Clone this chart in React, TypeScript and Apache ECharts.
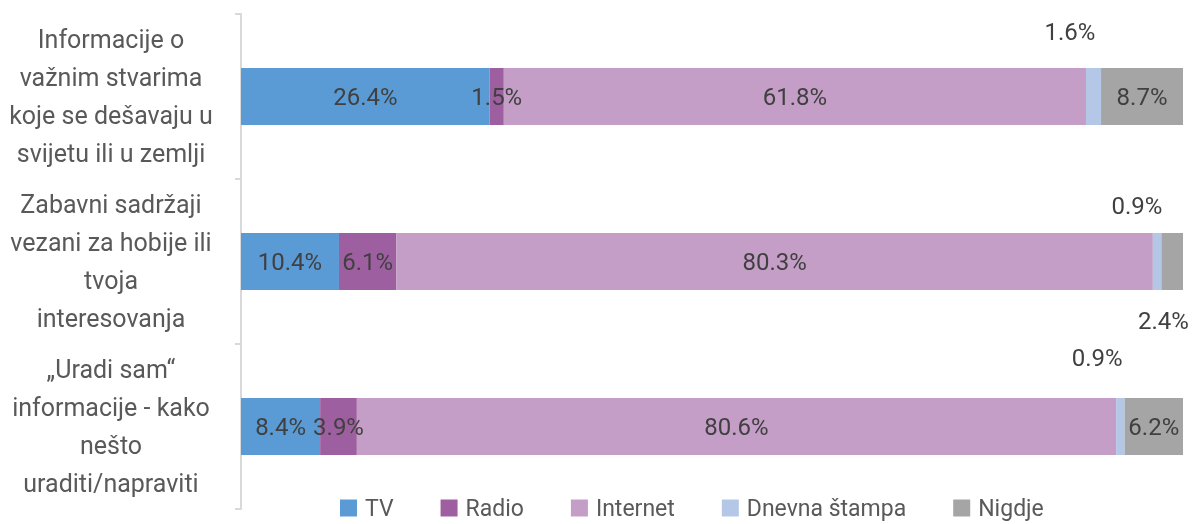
import React, { useEffect, useRef } from "react";
import * as echarts from "echarts";

const categories = [
  "Informacije o\nvažnim stvarima\nkoje se dešavaju u\nsvijetu ili u zemlji",
  "Zabavni sadržaji\nvezani za hobije ili\ntvoja\ninteresovanja",
  "„Uradi sam“\ninformacije - kako\nnešto\nuraditi/napraviti",
];
const seriesNames = ["TV", "Radio", "Internet", "Dnevna štampa", "Nigdje"];
const tv = [26.4, 10.4, 8.4];
const radio = [1.5, 6.1, 3.9];
const internet = [61.8, 80.3, 80.6];
const dnevna = [1.6, 0.9, 0.9];
const nigdje = [8.7, 2.4, 6.2];
const colors = ["#5B9BD5", "#9E5FA1", "#C49EC7", "#B4C7E7", "#A5A5A5"];

// label placements outside the bars (relative to segment rect): key "series-category"
const outsideLabels: Record<string, [number, number]> = {
  "3-0": [-16, -36],
  "3-1": [-16, -27],
  "3-2": [-19, -40],
  "4-1": [2, 88],
};

const FONT = "Roboto, 'Liberation Sans', sans-serif";

export default function App() {
  const ref = useRef<HTMLDivElement>(null);
  useEffect(() => {
    if (!ref.current) return;
    const chart = echarts.init(ref.current, null, { renderer: "svg" });
    const all = [tv, radio, internet, dnevna, nigdje];
    const series = all.map((vals, si) => ({
      name: seriesNames[si],
      type: "bar",
      stack: "total",
      barWidth: 57,
      itemStyle: { color: colors[si] },
      label: {
        show: true,
        position: "inside",
        color: "#404040",
        fontFamily: FONT,
        fontSize: 24,
        formatter: (p: any) => p.value.toFixed(1) + "%",
      },
      data: vals.map((v, ci) => {
        const o = outsideLabels[`${si}-${ci}`];
        if (!o) return v;
        return {
          value: v,
          label: { position: o, align: "center", verticalAlign: "middle" },
        };
      }),
    }));
    chart.setOption({
      animation: false,
      textStyle: { fontFamily: FONT },
      grid: { left: 241, right: 9, top: 14, bottom: 15, containLabel: false },
      legend: {
        top: 491,
        left: 335,
        itemWidth: 17,
        itemHeight: 17,
        itemGap: 47,
        icon: "rect",
        textStyle: {
          color: "#595959",
          fontSize: 23,
          lineHeight: 24,
          fontFamily: FONT,
          padding: [0, 0, 0, 3],
        },
        data: seriesNames,
      },
      xAxis: {
        type: "value",
        min: 0,
        max: 100,
        show: false,
      },
      yAxis: {
        type: "category",
        inverse: true,
        data: categories,
        axisLine: { show: true, lineStyle: { color: "#D9D9D9", width: 2 } },
        axisTick: { show: true, length: 6, lineStyle: { color: "#D9D9D9", width: 2 } },
        axisLabel: {
          color: "#595959",
          fontSize: 25,
          lineHeight: 38,
          align: "center",
          margin: 130,
          fontFamily: FONT,
        },
      },
      series,
    });
    return () => chart.dispose();
  }, []);
  return (
    <div
      ref={ref}
      style={{ position: "fixed", left: 0, top: 0, width: 1192, height: 524 }}
    />
  );
}
